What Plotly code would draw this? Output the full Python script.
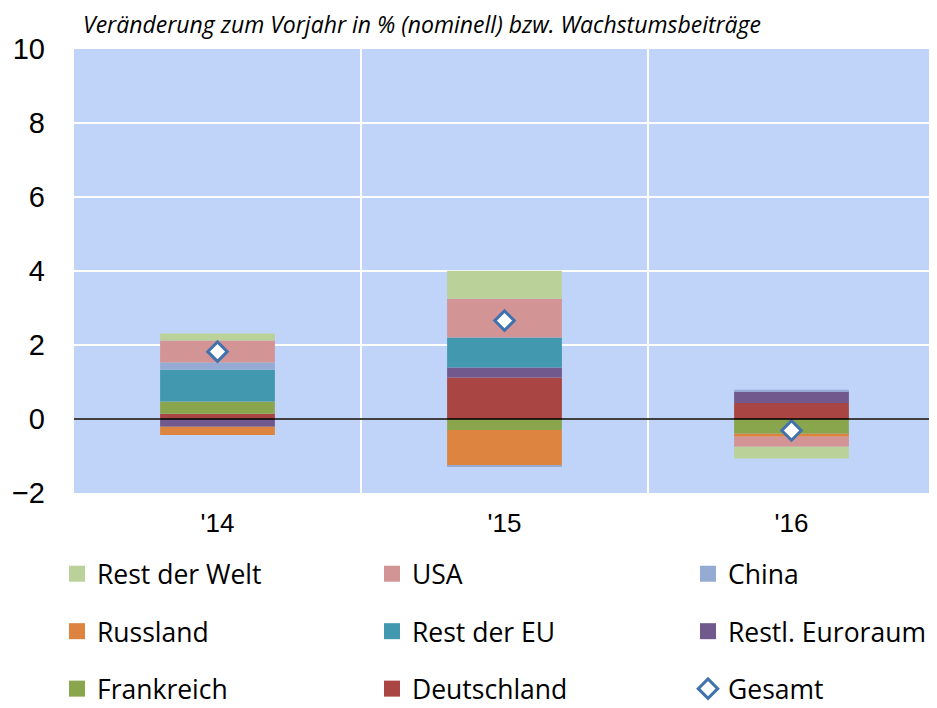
import plotly.graph_objects as go

years = ["'14", "'15", "'16"]

deutschland = [0.14, 1.12, 0.43]
frankreich = [0.33, -0.30, -0.40]
restl_euroraum = [-0.21, 0.27, 0.31]
rest_eu = [0.86, 0.81, 0.0]
russland = [-0.22, -0.96, -0.08]
china = [0.20, -0.04, 0.05]
usa = [0.59, 1.05, -0.27]
rest_welt = [0.19, 0.76, -0.32]
gesamt = [1.82, 2.66, -0.31]

# (name, values, colour, legend id, rank in that legend)
series = [
    ("Deutschland", deutschland, "#A94644", "legend2", 3),
    ("Frankreich", frankreich, "#8AA64D", "legend", 3),
    ("Restl. Euroraum", restl_euroraum, "#72598D", "legend3", 2),
    ("Rest der EU", rest_eu, "#4298AF", "legend2", 2),
    ("Russland", russland, "#DD8540", "legend", 2),
    ("China", china, "#95ABD3", "legend3", 1),
    ("USA", usa, "#D39495", "legend2", 1),
    ("Rest der Welt", rest_welt, "#BBD19A", "legend", 1),
]

# page body has an 8px margin, so the figure is 8px smaller than the window
W, H = 929, 700
fig = go.Figure()
for name, vals, col, leg, rank in series:
    fig.add_trace(go.Bar(
        x=years, y=vals, name=name, marker=dict(color=col, line=dict(width=0)),
        showlegend=False, legendgroup=name,
    ))
    # legend entry with a larger square swatch
    fig.add_trace(go.Scatter(
        x=[None], y=[None], name=name, mode="markers",
        marker=dict(symbol="square", size=16, color=col),
        legend=leg, legendrank=rank, legendgroup=name, hoverinfo="skip",
    ))
fig.add_trace(go.Scatter(
    x=years, y=gesamt, name="Gesamt", mode="markers",
    marker=dict(symbol="diamond", size=15, color="white",
                line=dict(color="#4172AE", width=3)),
    legend="legend3", legendrank=3, legendgroup="Gesamt",
))

fig.add_shape(type="line", xref="paper", x0=0, x1=1, yref="y", y0=0, y1=0,
              line=dict(color="black", width=1.5), layer="above")

legfont = dict(family="Open Sans", size=26.5, color="black")
def leg(xpx):
    return dict(xref="container", yref="container", x=xpx / W, y=1 - 542 / H,
                xanchor="left", yanchor="top", orientation="v",
                font=legfont, tracegroupgap=20, bgcolor="rgba(0,0,0,0)",
                traceorder="grouped")

fig.update_layout(
    width=W, height=H,
    margin=dict(l=66, r=2, t=41, b=215, autoexpand=False),
    paper_bgcolor="white", plot_bgcolor="#C0D3F8",
    barmode="relative", bargap=0.6,
    showlegend=True,
    legend=leg(49), legend2=leg(364), legend3=leg(680),
    title=dict(text="<i>Veränderung zum Vorjahr in % (nominell) bzw. Wachstumsbeiträge</i>",
               x=75 / W, xanchor="left", xref="container",
               y=1 - 17 / H, yanchor="middle", yref="container",
               font=dict(family="Open Sans", size=23, color="black")),
    xaxis=dict(type="category", tickson="boundaries", showgrid=True,
               gridcolor="white", gridwidth=1.5, ticks="", zeroline=False,
               showline=False, tickfont=dict(family="Liberation Sans", size=26, color="black"),
               ticklabelstandoff=12, tickangle=0),
    yaxis=dict(range=[-2, 10], tickvals=[-2, 0, 2, 4, 6, 8, 10],
               showgrid=True, gridcolor="white", gridwidth=1.5, zeroline=False,
               ticks="", showline=False,
               tickfont=dict(family="Liberation Sans", size=29, color="black"),
               ticklabelstandoff=28),
)

fig.write_html("out.html")
